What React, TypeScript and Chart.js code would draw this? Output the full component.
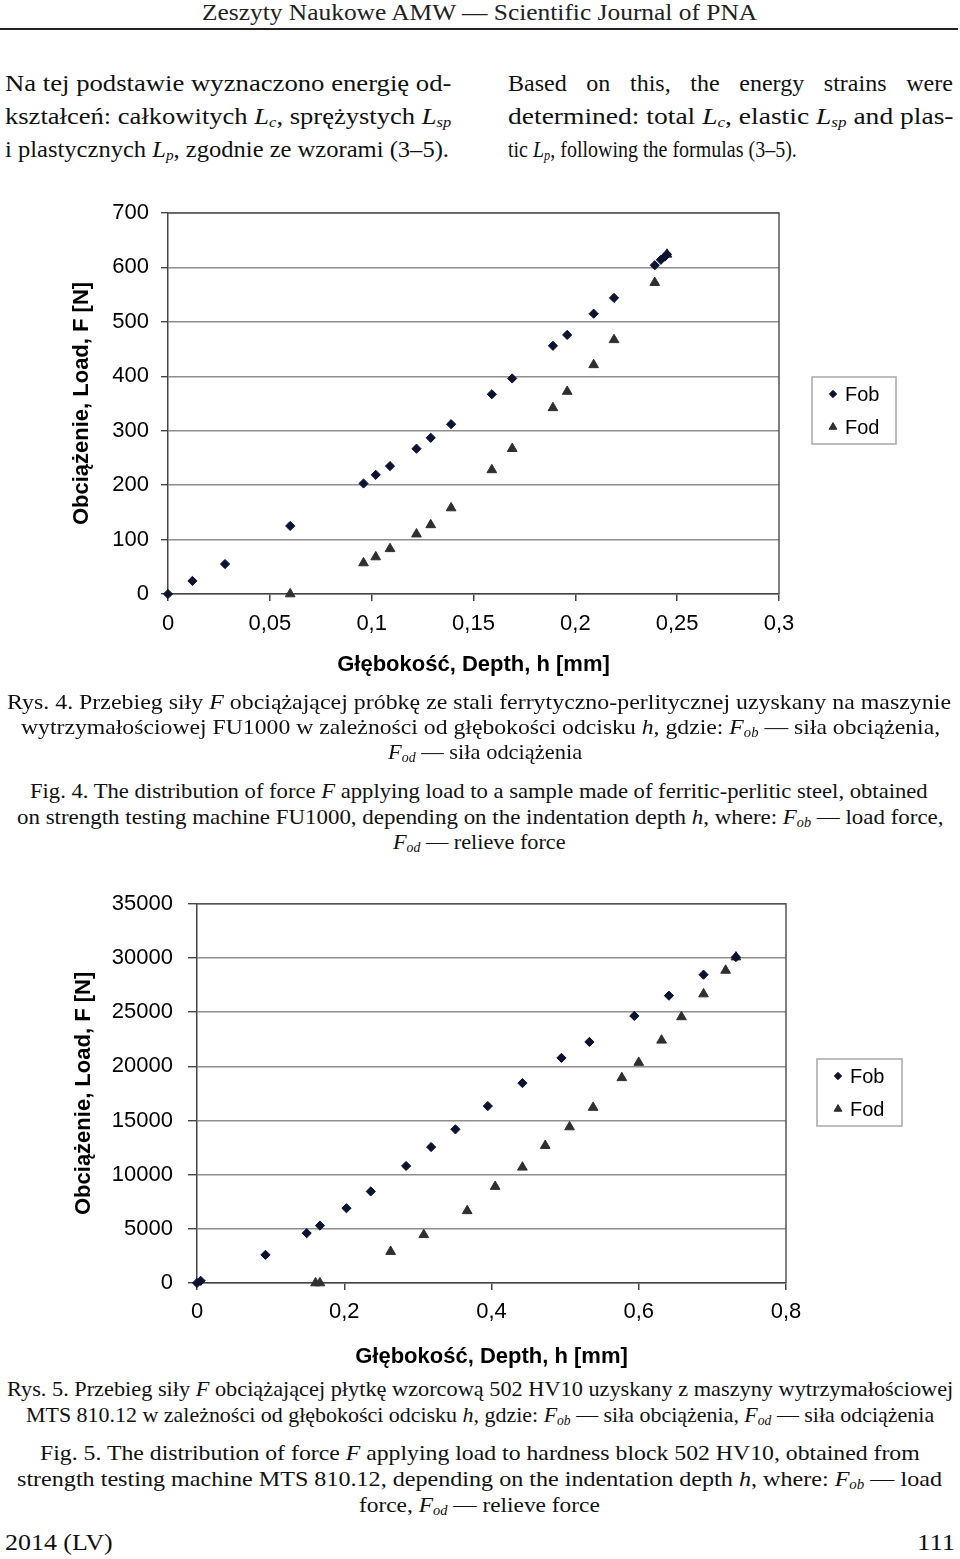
import React, { useEffect, useLayoutEffect, useRef, useState } from 'react';
import { Chart, registerables } from 'chart.js';
import { drawPoint } from 'chart.js/helpers';

Chart.register(...registerables);

// ---------- DATA: Fig. 4 (FU1000) ----------
const fig4ObDepth = [0, 0.012, 0.028, 0.060, 0.096, 0.102, 0.109, 0.122, 0.129, 0.139, 0.159, 0.169, 0.189, 0.196, 0.209, 0.219, 0.239, 0.242, 0.244, 0.245];
const fig4ObLoad = [0, 24, 55, 125, 203, 219, 235, 267, 287, 312, 367, 396, 456, 476, 515, 544, 604, 614, 620, 624];
const fig4OdDepth = [0.060, 0.096, 0.102, 0.109, 0.122, 0.129, 0.139, 0.159, 0.169, 0.189, 0.196, 0.209, 0.219, 0.239, 0.245];
const fig4OdLoad = [0, 57, 68, 83, 110, 127, 158, 228, 267, 342, 372, 421, 467, 572, 624];
const fig4XTicks = [0, 0.05, 0.1, 0.15, 0.2, 0.25, 0.3];
const fig4YTicks = [0, 100, 200, 300, 400, 500, 600, 700];

// ---------- DATA: Fig. 5 (MTS 810.12) ----------
const fig5ObDepth = [0, 0.005, 0.093, 0.149, 0.167, 0.203, 0.236, 0.284, 0.318, 0.351, 0.395, 0.442, 0.495, 0.533, 0.594, 0.641, 0.688, 0.732];
const fig5ObLoad = [0, 200, 2600, 4600, 5300, 6900, 8450, 10800, 12550, 14180, 16330, 18450, 20780, 22250, 24650, 26520, 28460, 30080];
const fig5OdDepth = [0.161, 0.167, 0.263, 0.308, 0.367, 0.405, 0.442, 0.473, 0.506, 0.538, 0.577, 0.600, 0.631, 0.658, 0.688, 0.718, 0.732];
const fig5OdLoad = [0, 0, 2900, 4450, 6660, 8900, 10680, 12680, 14400, 16200, 18940, 20350, 22400, 24560, 26670, 28850, 30080];
const fig5XTicks = [0, 0.2, 0.4, 0.6, 0.8];
const fig5YTicks = [0, 5000, 10000, 15000, 20000, 25000, 30000, 35000];

const seriesLabels = ['Fob', 'Fod'];
const yTitle = 'Obciążenie, Load, F [N]';
const xTitle = 'Głębokość, Depth, h [mm]';

const SANS = '"Liberation Sans", Arial, sans-serif';
const SERIF = '"Liberation Serif", "Times New Roman", serif';

const toPoints = (xs: number[], ys: number[]) => xs.map((x, i) => ({ x, y: ys[i] }));
const fmt = (v: number) => String(Math.round(v * 1000) / 1000).replace('.', ',');

function makeLegend(bx: number, by: number, bw: number, bh: number) {
  return {
    id: 'boxLegend',
    afterDraw(chart: any) {
      const { ctx } = chart;
      ctx.save();
      ctx.strokeStyle = '#a8a8a8';
      ctx.lineWidth = 1.5;
      ctx.strokeRect(bx, by, bw, bh);
      chart.data.datasets.forEach((ds: any, i: number) => {
        const cy = by + 17 + i * 33;
        ctx.fillStyle = ds.backgroundColor;
        ctx.strokeStyle = ds.borderColor;
        ctx.lineWidth = 1;
        drawPoint(ctx, { pointStyle: ds.pointStyle, radius: ds.pointRadius * 0.8, borderWidth: 1, rotation: 0 } as any, bx + 21, cy);
        ctx.fillStyle = '#000';
        ctx.font = `20px ${SANS}`;
        ctx.textBaseline = 'middle';
        ctx.textAlign = 'left';
        ctx.fillText(ds.label, bx + 33, cy + 1);
      });
      ctx.restore();
    },
  };
}

const framePlugin = {
  id: 'frame',
  beforeDatasetsDraw(chart: any) {
    const { ctx, chartArea } = chart;
    const { left, top, right, bottom } = chartArea;
    ctx.save();
    ctx.strokeStyle = '#555';
    ctx.lineWidth = 1.5;
    ctx.beginPath();
    ctx.moveTo(left, top);
    ctx.lineTo(right, top);
    ctx.lineTo(right, bottom);
    ctx.stroke();
    ctx.restore();
  },
};

type ChartProps = {
  left: number; top: number; width: number; height: number;
  ob: { x: number; y: number }[]; od: { x: number; y: number }[];
  xTicks: number[]; yTicks: number[];
  yAxisWidth: number; xAxisHeight: number;
  padTop: number; padRight: number;
  yTickPad: number; yTickLen: number; xTickPad: number;
  yTitlePad: number; xTitlePad: number;
  tickSize: number;
  legend: [number, number, number, number];
};

function ScatterChart(p: ChartProps) {
  const ref = useRef<HTMLCanvasElement>(null);
  useEffect(() => {
    if (!ref.current) return;
    const chart = new Chart(ref.current, {
      type: 'scatter',
      data: {
        datasets: [
          {
            label: seriesLabels[0], data: p.ob, pointStyle: 'rectRot', pointRadius: 4.6,
            backgroundColor: '#0c1332', borderColor: '#0c1332', borderWidth: 1, clip: false as any,
          },
          {
            label: seriesLabels[1], data: p.od, pointStyle: 'triangle', pointRadius: 5.6,
            backgroundColor: '#2f2f2f', borderColor: '#2f2f2f', borderWidth: 1, clip: false as any,
          },
        ],
      },
      options: {
        animation: false,
        responsive: true,
        maintainAspectRatio: false,
        layout: { padding: { top: p.padTop, right: p.padRight, left: 0, bottom: 0 } },
        plugins: { legend: { display: false }, tooltip: { enabled: false } },
        scales: {
          x: {
            type: 'linear',
            min: p.xTicks[0], max: p.xTicks[p.xTicks.length - 1],
            afterBuildTicks: (s: any) => { s.ticks = p.xTicks.map((v) => ({ value: v })); },
            afterFit: (s: any) => { s.height = p.xAxisHeight; },
            ticks: { color: '#000', font: { family: SANS, size: p.tickSize }, padding: p.xTickPad, maxRotation: 0, autoSkip: false, callback: (v: any) => fmt(Number(v)) },
            grid: { drawOnChartArea: false, color: '#444', tickLength: 7, lineWidth: 1.5 },
            border: { color: '#444', width: 1.5 },
            title: { display: true, text: xTitle, color: '#000', font: { family: SANS, size: 22, weight: 'bold' }, padding: { top: 0, bottom: p.xTitlePad } },
          },
          y: {
            type: 'linear',
            min: p.yTicks[0], max: p.yTicks[p.yTicks.length - 1],
            afterBuildTicks: (s: any) => { s.ticks = p.yTicks.map((v) => ({ value: v })); },
            afterFit: (s: any) => { s.width = p.yAxisWidth; },
            ticks: { color: '#000', font: { family: SANS, size: p.tickSize, lineHeight: 0.8 }, padding: p.yTickPad, autoSkip: false, callback: (v: any) => String(v) },
            grid: { color: '#8e8e8e', lineWidth: 1.4, tickLength: p.yTickLen, tickColor: '#444' },
            border: { color: '#444', width: 1.5 },
            title: { display: true, text: yTitle, color: '#000', font: { family: SANS, size: 22, weight: 'bold' }, padding: { top: p.yTitlePad, bottom: 0 } },
          },
        },
      } as any,
      plugins: [framePlugin, makeLegend(...p.legend)],
    });
    return () => chart.destroy();
  }, []);
  return (
    <div style={{ position: 'absolute', left: p.left, top: p.top, width: p.width, height: p.height }}>
      <canvas ref={ref} />
    </div>
  );
}

function FitLine({ x1, x2, cy, size, children, color = '#111', justify = 0 }: { x1: number; x2: number; cy: number; size: number; children: React.ReactNode; color?: string; justify?: number }) {
  const ref = useRef<HTMLSpanElement>(null);
  const [st, setSt] = useState({ s: 1, ws: 0 });
  useLayoutEffect(() => {
    const el = ref.current;
    if (!el) return;
    const w = el.offsetWidth;
    const T = x2 - x1;
    if (w <= 0) return;
    if (justify > 0) {
      const spaces = (el.textContent || '').split(' ').length - 1;
      const need = T / justify;
      if (need > w && spaces > 0) {
        setSt({ s: justify, ws: (need - w) / spaces });
        return;
      }
    }
    setSt({ s: T / w, ws: 0 });
  }, []);
  return (
    <div
      style={{
        position: 'absolute', left: x1, top: cy - size * 0.62, whiteSpace: 'nowrap',
        fontFamily: SERIF, fontSize: size, lineHeight: `${Math.round(size * 1.2)}px`, color,
        wordSpacing: `${st.ws}px`,
        transformOrigin: '0 0', transform: `scaleX(${st.s})`,
      }}
    >
      <span ref={ref}>{children}</span>
    </div>
  );
}

const Sub = ({ t }: { t: string }) => (
  <span style={{ fontSize: '0.62em', fontStyle: 'italic', position: 'relative', top: '0.22em' }}>{t}</span>
);
const Sym = ({ s, sub }: { s: string; sub?: string }) => (
  <>
    <i>{s}</i>
    {sub ? <Sub t={sub} /> : null}
  </>
);

export default function App() {
  const P = 24;
  const C = 22;
  return (
    <div style={{ position: 'absolute', left: 0, top: 0, width: 960, height: 1559, overflow: 'hidden', background: '#fff' }}>
      <FitLine x1={202} x2={757} cy={13} size={24} color="#222">Zeszyty Naukowe AMW — Scientific Journal of PNA</FitLine>
      <div style={{ position: 'absolute', left: 0, top: 28, width: 958, height: 1.5, background: '#222' }} />

      <FitLine x1={5} x2={451} cy={84} size={P}>Na tej podstawie wyznaczono energię od-</FitLine>
      <FitLine x1={5} x2={451} cy={117} size={P}>kształceń: całkowitych <Sym s="L" sub="c" />, sprężystych <Sym s="L" sub="sp" /></FitLine>
      <FitLine x1={5} x2={449} cy={150} size={P}>i plastycznych <Sym s="L" sub="p" />, zgodnie ze wzorami (3–5).</FitLine>

      <FitLine x1={508} x2={953} cy={84} size={P} justify={1}>Based on this, the energy strains were</FitLine>
      <FitLine x1={508} x2={953} cy={117} size={P}>determined: total <Sym s="L" sub="c" />, elastic <Sym s="L" sub="sp" /> and plas-</FitLine>
      <FitLine x1={508} x2={797} cy={150} size={P}>tic <Sym s="L" sub="p" />, following the formulas (3–5).</FitLine>

      <ScatterChart
        left={60} top={190} width={850} height={500}
        ob={toPoints(fig4ObDepth, fig4ObLoad)} od={toPoints(fig4OdDepth, fig4OdLoad)}
        xTicks={fig4XTicks} yTicks={fig4YTicks}
        yAxisWidth={108} xAxisHeight={96} padTop={23} padRight={131}
        yTickPad={12} yTickLen={7} xTickPad={10} yTitlePad={9} xTitlePad={12} tickSize={22}
        legend={[752, 187, 84, 67]}
      />

      <FitLine x1={7} x2={951} cy={703} size={C}>Rys. 4. Przebieg siły <i>F</i> obciążającej próbkę ze stali ferrytyczno-perlitycznej uzyskany na maszynie</FitLine>
      <FitLine x1={21} x2={940} cy={728} size={C}>wytrzymałościowej FU1000 w zależności od głębokości odcisku <i>h</i>, gdzie: <Sym s="F" sub="ob" /> — siła obciążenia,</FitLine>
      <FitLine x1={388} x2={582} cy={753} size={C}><Sym s="F" sub="od" /> — siła odciążenia</FitLine>

      <FitLine x1={30} x2={928} cy={792} size={C}>Fig. 4. The distribution of force <i>F</i> applying load to a sample made of ferritic-perlitic steel, obtained</FitLine>
      <FitLine x1={17} x2={944} cy={818} size={C}>on strength testing machine FU1000, depending on the indentation depth <i>h</i>, where: <Sym s="F" sub="ob" /> — load force,</FitLine>
      <FitLine x1={393} x2={566} cy={843} size={C}><Sym s="F" sub="od" /> — relieve force</FitLine>

      <ScatterChart
        left={60} top={880} width={850} height={495}
        ob={toPoints(fig5ObDepth, fig5ObLoad)} od={toPoints(fig5OdDepth, fig5OdLoad)}
        xTicks={fig5XTicks} yTicks={fig5YTicks}
        yAxisWidth={137} xAxisHeight={92} padTop={23} padRight={124}
        yTickPad={15} yTickLen={9} xTickPad={9} yTitlePad={11} xTitlePad={5} tickSize={22}
        legend={[757, 179, 85, 67]}
      />

      <FitLine x1={7} x2={953} cy={1390} size={C}>Rys. 5. Przebieg siły <i>F</i> obciążającej płytkę wzorcową 502 HV10 uzyskany z maszyny wytrzymałościowej</FitLine>
      <FitLine x1={26} x2={934} cy={1416} size={C}>MTS 810.12 w zależności od głębokości odcisku <i>h</i>, gdzie: <Sym s="F" sub="ob" /> — siła obciążenia, <Sym s="F" sub="od" /> — siła odciążenia</FitLine>

      <FitLine x1={40} x2={920} cy={1454} size={C}>Fig. 5. The distribution of force <i>F</i> applying load to hardness block 502 HV10, obtained from</FitLine>
      <FitLine x1={17} x2={942} cy={1480} size={C}>strength testing machine MTS 810.12, depending on the indentation depth <i>h</i>, where: <Sym s="F" sub="ob" /> — load</FitLine>
      <FitLine x1={359} x2={600} cy={1506} size={C}>force, <Sym s="F" sub="od" /> — relieve force</FitLine>

      <FitLine x1={5} x2={113} cy={1543} size={24}>2014 (LV)</FitLine>
      <FitLine x1={917} x2={955} cy={1543} size={24}>111</FitLine>
    </div>
  );
}
